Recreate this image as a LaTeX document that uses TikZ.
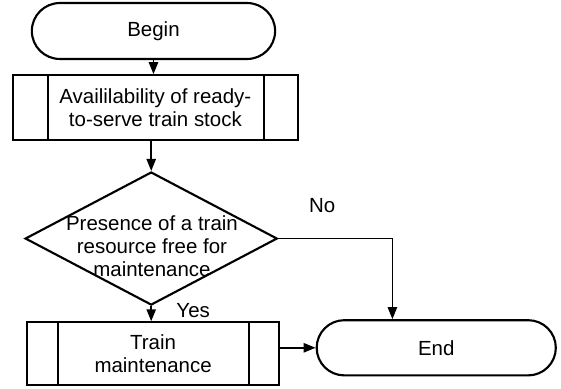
\documentclass[tikz,border=0pt]{standalone}
\usepackage{fontspec}
\setmainfont{Liberation Sans}
\usepackage{tikz}
\usetikzlibrary{arrows.meta,positioning,shapes.geometric,shapes.misc,calc}

\begin{document}
\begin{tikzpicture}[>={Triangle[length=9pt,width=7pt]}, every node/.style={font=\fontsize{15.4}{17.3}\selectfont}]
    % Define styles
    \tikzstyle{terminal} = [rounded rectangle, draw, line width=1.6pt, minimum height=1.48cm]
    \tikzstyle{predef} = [rectangle, draw, line width=1.6pt, align=center, inner sep=0pt]
    \tikzstyle{decision} = [diamond, draw, line width=1.6pt, inner sep=0pt,
                            minimum width=6.67cm, minimum height=3.52cm]
    \tikzstyle{flow} = [->, line width=1.2pt]

    \useasboundingbox (0,0) rectangle (14.84,10.27);

    % Start
    \node[terminal, minimum width=6.67cm] (begin) at (4.06,9.45) {Begin};

    % Stock check
    \node[predef, minimum width=7.54cm, minimum height=1.72cm] (stock) at (4.11,7.42)
        {Availilability of ready-\\to-serve train stock};
    \draw[line width=1.6pt] ([xshift=0.95cm]stock.north west) -- ([xshift=0.95cm]stock.south west);
    \draw[line width=1.6pt] ([xshift=-0.93cm]stock.north east) -- ([xshift=-0.93cm]stock.south east);

    % Decision
    \node[decision] (check) at (4.00,3.96) {};
    \node[align=center, inner sep=0pt] (checktext) at (4.02,3.75)
        {Presence of a train\\resource free for\\maintenance};

    % Maintenance
    \node[predef, minimum width=6.67cm, minimum height=1.67cm] (maint) at (4.05,0.91)
        {Train\\maintenance};
    \draw[line width=1.6pt] ([xshift=0.85cm]maint.north west) -- ([xshift=0.85cm]maint.south west);
    \draw[line width=1.6pt] ([xshift=-0.82cm]maint.north east) -- ([xshift=-0.82cm]maint.south east);

    % Stop
    \node[terminal, minimum width=6.56cm, minimum height=1.46cm] (stop) at (11.54,1.07) {End};
    \coordinate (noturn) at ([xshift=-1.16cm]stop.north);

    % Labels
    \node (yes) at (5.11,2.06) {Yes};
    \node (no) at (8.52,4.84) {No};

    % Flow arrows
    \draw[flow] (begin.south) -- (begin.south |- stock.north);
    \draw[flow] (check.north |- stock.south) -- (check.north);
    \draw[flow] (check.south) -- (check.south |- maint.north);
    \draw[flow] (check.east) -| (noturn);
    \draw[flow] (maint.east |- stop.west) -- (stop.west);
\end{tikzpicture}
\end{document}
